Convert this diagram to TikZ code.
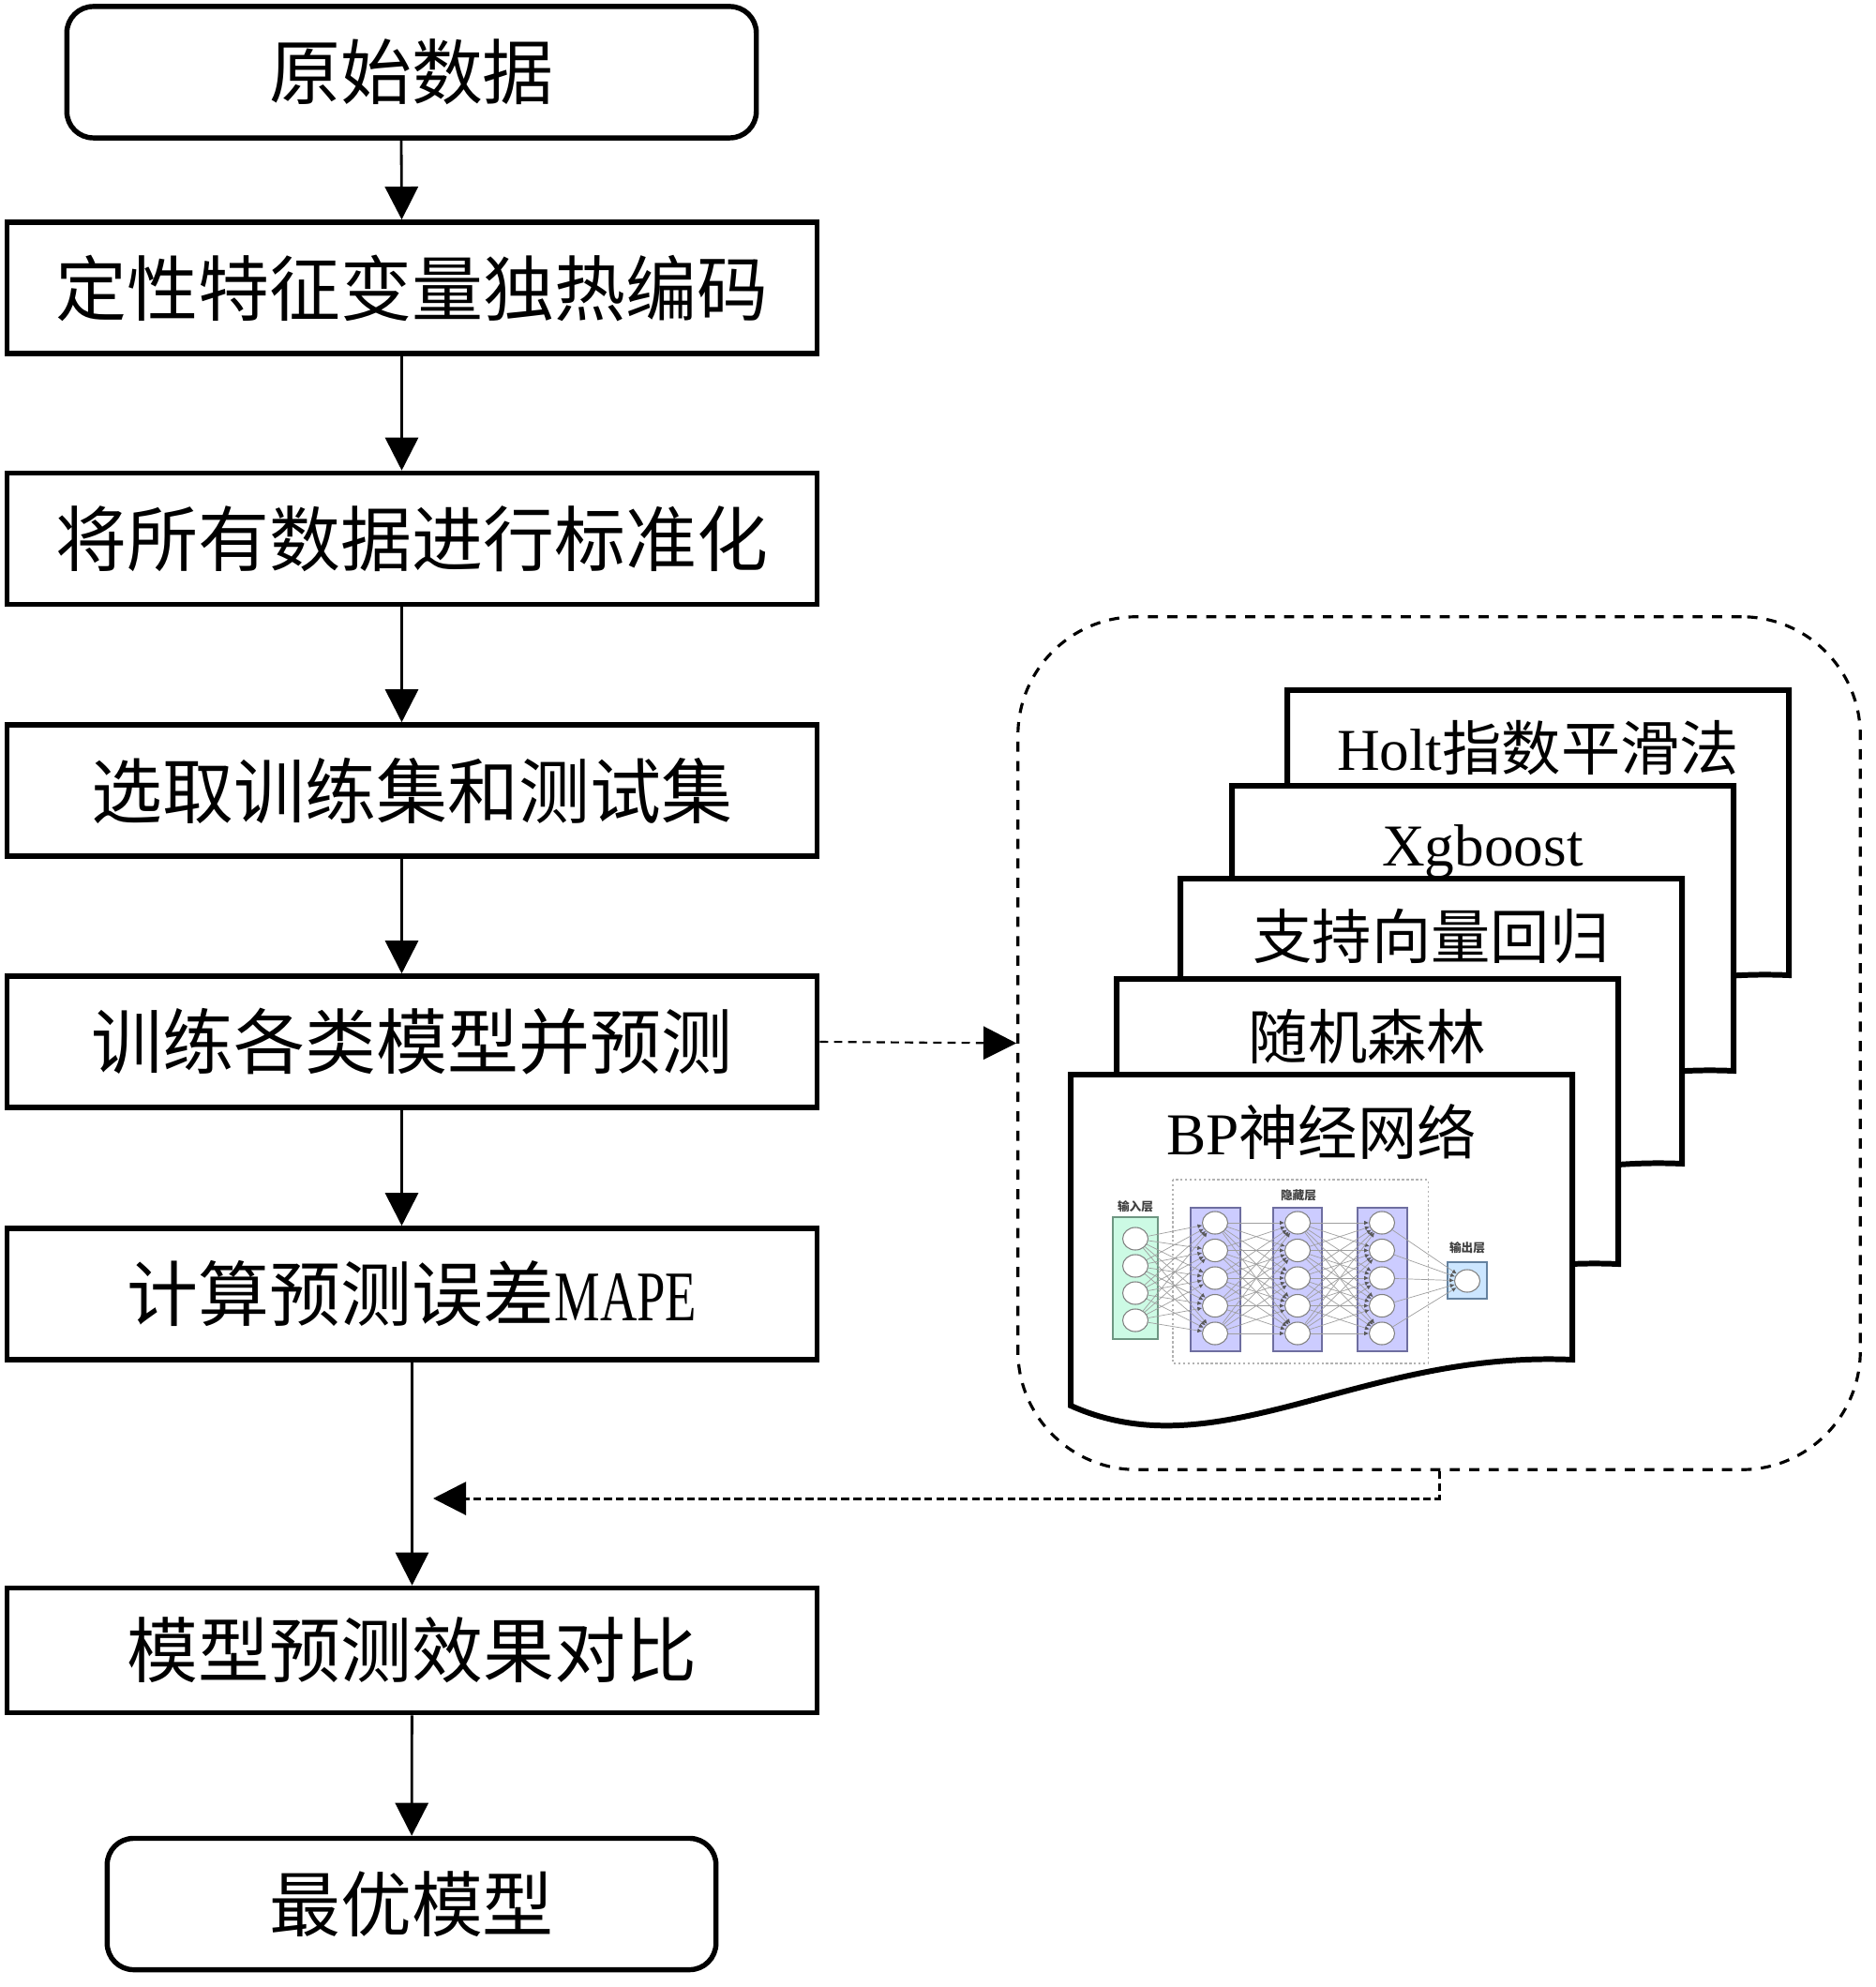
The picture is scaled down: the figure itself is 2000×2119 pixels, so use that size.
\documentclass[tikz,border=0pt]{standalone}
\usepackage{fontspec}
\usepackage{tikz}
\usetikzlibrary{arrows.meta,shapes.geometric}
\setmainfont{Liberation Serif}
\newfontfamily\zh{Noto Sans CJK SC}
\newfontfamily\narrowSerif[FakeStretch=0.72]{Liberation Serif}
\newcommand*{\docW}{535}
\newcommand*{\boxFont}{\zh\fontsize{21.6pt}{26pt}\selectfont}
\newcommand*{\docFont}{\fontsize{18pt}{22pt}\selectfont}
\definecolor{inFill}{RGB}{204,250,228}
\definecolor{inLine}{RGB}{110,150,130}
\definecolor{hidFill}{RGB}{204,204,255}
\definecolor{hidLine}{RGB}{110,110,160}
\definecolor{outFill}{RGB}{204,230,255}
\definecolor{outLine}{RGB}{100,130,160}

\begin{document}
\begin{tikzpicture}[x=0.01cm,y=-0.01cm,
	flowbox/.style={draw,line width=1.55pt,fill=white,minimum width=8.64cm,minimum height=1.40cm,inner sep=0pt,font=\boxFont},
	endbox/.style={flowbox,rounded corners=8pt,minimum width=7.35cm},
	flowarrow/.style={line width=0.8pt,-{Triangle[length=10pt,width=10pt]}},
	dasharrow/.style={flowarrow,line width=0.6pt,dash pattern=on 2.5pt off 1.8pt},
	backarrow/.style={flowarrow,line width=0.85pt,dash pattern=on 2.4pt off 1.2pt},
	modelframe/.style={draw,line width=0.9pt,dash pattern=on 3.1pt off 2.8pt,rounded corners=36pt,minimum width=8.98cm,minimum height=9.09cm},
	docline/.style={draw,line width=1.7pt,fill=white},
	doctext/.style={anchor=base,font=\docFont,inner sep=0pt},
	neuron/.style={ellipse,draw=gray,line width=0.3pt,fill=white,minimum width=0.27cm,minimum height=0.24cm,inner sep=0pt},
	nnlink/.style={gray!75,line width=0.2pt,-{Latex[length=1.4pt,width=1.3pt,color=black!65]}},
	nnlabel/.style={font=\zh\bfseries\fontsize{3.6pt}{4pt}\selectfont,text=black!75,inner sep=0pt}]

	\useasboundingbox (0,0) rectangle (2000,2119);

	\node[endbox,minimum width=7.35cm] (raw) at (439,77) {\raisebox{-0.06cm}{原始数据}};
	\node[flowbox] (code) at (439.5,307) {定性特征变量独热编码};
	\node[flowbox] (norm) at (439.5,574.5) {将所有数据进行标准化};
	\node[flowbox] (split) at (439.5,843) {选取训练集和测试集};
	\node[flowbox] (train) at (439.5,1111) {训练各类模型并预测};
	\node[flowbox] (mape) at (439.5,1380) {计算预测误差{\narrowSerif MAPE}};
	\node[flowbox,minimum height=1.33cm] (compare) at (439.5,1760) {模型预测效果对比};
	\node[endbox,minimum width=6.49cm] (best) at (439,2030.5) {最优模型};

	\draw[flowarrow] ([xshift=-0.11cm]raw.south) -- ([xshift=-0.11cm]code.north);
	\draw[flowarrow] ([xshift=-0.11cm]code.south) -- ([xshift=-0.11cm]norm.north);
	\draw[flowarrow] ([xshift=-0.11cm]norm.south) -- ([xshift=-0.11cm]split.north);
	\draw[flowarrow] ([xshift=-0.11cm]split.south) -- ([xshift=-0.11cm]train.north);
	\draw[flowarrow] ([xshift=-0.11cm]train.south) -- ([xshift=-0.11cm]mape.north);
	\draw[flowarrow] (mape) -- (compare);
	\draw[flowarrow] (compare) -- (best);

	\node[modelframe] (models) at (1535,1112.5) {};
	\draw[dasharrow] (train.east) -- (models.west);
	\coordinate (mergeIn) at (462,1598);
	\draw[backarrow] (models.south) |- (mergeIn);

	\foreach \dx/\dy/\nm/\txt in {
		1373/736/holt/{Holt{\zh 指数平滑法}},
		1314/838/xgb/{Xgboost},
		1259/937/svr/{{\zh 支持向量回归}},
		1191/1044/rf/{{\zh 随机森林}},
		1142/1146/bp/{BP{\zh 神经网络}}} {
		\draw[docline] (\dx,\dy) -- (\dx+\docW,\dy) -- (\dx+\docW,\dy+304) .. controls (\dx+308,\dy+294) and (\dx+158,\dy+424) .. (\dx,\dy+353) -- cycle;
		\node[doctext] (\nm) at (\dx+267.5,\dy+85) {\txt};
	}

	\draw[gray!60,line width=0.3pt,dash pattern=on 0.7pt off 0.7pt] (1251,1258) rectangle (1523,1454);
	\draw[inLine,fill=inFill,line width=0.4pt] (1187,1298) rectangle (1235,1428);
	\foreach \xa/\xb in {1270/1323,1358/1410,1448/1501} {
		\draw[hidLine,fill=hidFill,line width=0.4pt] (\xa,1288) rectangle (\xb,1441);
	}
	\draw[outLine,fill=outFill,line width=0.4pt] (1544,1346) rectangle (1586,1385);

	\node[nnlabel] (inLabel) at (1211,1287) {输入层};
	\node[nnlabel] (hidLabel) at (1385,1275) {隐藏层};
	\node[nnlabel] (outLabel) at (1565,1331) {输出层};

	\foreach \i in {0,...,3} {
		\node[neuron] (in\i) at (1211,1321+29*\i) {};
	}
	\foreach \l/\xc in {a/1296,b/1384,c/1474} {
		\foreach \j in {0,...,4} {
			\node[neuron] (h\l\j) at (\xc,1304+29.5*\j) {};
		}
	}
	\node[neuron] (out) at (1565,1366) {};

	\foreach \i in {0,...,3} {
		\foreach \j in {0,...,4} {
			\draw[nnlink] (in\i) -- (ha\j);
		}
	}
	\foreach \i in {0,...,4} {
		\foreach \j in {0,...,4} {
			\draw[nnlink] (ha\i) -- (hb\j);
			\draw[nnlink] (hb\i) -- (hc\j);
		}
		\draw[nnlink] (hc\i) -- (out);
	}

\end{tikzpicture}
\end{document}
